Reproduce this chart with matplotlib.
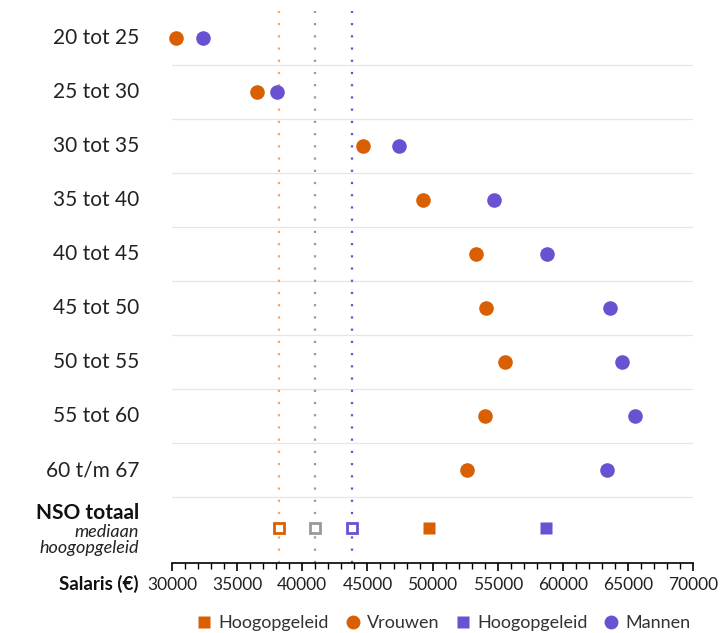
import numpy as np
import matplotlib.pyplot as plt
from matplotlib.lines import Line2D

plt.rcParams['font.family'] = ['Lato', 'DejaVu Sans']

leeftijd = ['20 tot 25', '25 tot 30', '30 tot 35', '35 tot 40', '40 tot 45',
            '45 tot 50', '50 tot 55', '55 tot 60', '60 t/m 67']
vrouwen = [30300, 36500, 44650, 49250, 53350, 54100, 55550, 54000, 52650]
mannen = [32400, 38050, 47400, 54700, 58800, 63600, 64550, 65550, 63400]

# NSO totaal, mediaan hoogopgeleid
nso_vrouwen = 49700
nso_mannen = 58700
# referentielijnen (vrouwen, totaal, mannen)
ref_waarden = [38200, 40950, 43800]
ref_lijnkleuren = ['#f7a36a', '#999999', '#6a51d1']
ref_markerkleuren = ['#d95f02', '#999999', '#6a51d1']

oranje = '#d95f02'
paars = '#6a51d1'

fig = plt.figure(figsize=(7.2, 6.33), dpi=100)
ax = fig.add_axes([0.239, 0.1106, 0.7236, 0.872])

y = np.arange(len(leeftijd))
y_nso = 9.07

# scheidingslijnen
for i in range(len(leeftijd)):
    ax.axhline(i + 0.5, color='#e6e6e6', lw=0.9, zorder=0)

for v, lc, mc in zip(ref_waarden, ref_lijnkleuren, ref_markerkleuren):
    ax.axvline(v, color=lc, lw=1.6, ls=(0, (1, 4.5)), zorder=1)
    ax.plot(v, y_nso, 's', ms=7.5, mfc='white', mec=mc, mew=2, zorder=3)

ax.plot(vrouwen, y, 'o', ms=10.5, color=oranje, zorder=3, mec='none', clip_on=False)
ax.plot(mannen, y, 'o', ms=10.5, color=paars, zorder=3, mec='none', clip_on=False)
ax.plot(nso_vrouwen, y_nso, 's', ms=9, color=oranje, mec='none', zorder=3)
ax.plot(nso_mannen, y_nso, 's', ms=9, color=paars, mec='none', zorder=3)

ax.set_xlim(30000, 70000)
ax.set_ylim(9.72, -0.5)
ax.set_xticks(np.arange(30000, 70001, 5000))
ax.set_xticks(np.arange(30000, 70001, 1000), minor=True)
ax.tick_params(axis='x', which='major', length=6, width=1.2, labelsize=12.5,
               labelcolor='#222222', pad=4)
ax.tick_params(axis='x', which='minor', length=4, width=1)
ax.set_yticks([])
for s in ['top', 'right', 'left']:
    ax.spines[s].set_visible(False)
ax.spines['bottom'].set_linewidth(1.2)

xl = -(172 - 139) / 521
for yi, lab in zip(y, leeftijd):
    ax.text(xl, yi, lab, transform=ax.get_yaxis_transform(), ha='right',
            va='center', fontsize=15, color='#222222')
ax.text(xl, y_nso - 0.27, 'NSO totaal', transform=ax.get_yaxis_transform(),
        ha='right', va='center', fontsize=15, fontweight='bold', color='#111111')
ax.text(xl, y_nso + 0.08, 'mediaan', transform=ax.get_yaxis_transform(),
        ha='right', va='center', fontsize=13, style='italic', color='#222222')
ax.text(xl, y_nso + 0.38, 'hoogopgeleid', transform=ax.get_yaxis_transform(),
        ha='right', va='center', fontsize=13, style='italic', color='#222222')
fig.text(139 / 720, 1 - 584 / 633, 'Salaris (€)', ha='right', va='center',
         fontsize=13.5, fontweight='bold', color='#111111')

handles = [
    Line2D([], [], ls='none', marker='s', ms=9, color=oranje, mec='none'),
    Line2D([], [], ls='none', marker='o', ms=10, color=oranje, mec='none'),
    Line2D([], [], ls='none', marker='s', ms=9, color=paars, mec='none'),
    Line2D([], [], ls='none', marker='o', ms=10, color=paars, mec='none'),
]
labels = ['Hoogopgeleid', 'Vrouwen', 'Hoogopgeleid', 'Mannen']
fig.legend(handles, labels, loc='center', bbox_to_anchor=(444 / 720, 1 - 623 / 633),
           ncol=4, frameon=False, fontsize=13, handlelength=0.8,
           handletextpad=0.4, columnspacing=0.9, labelcolor='#333333')

fig.savefig('out.png', dpi=100)
